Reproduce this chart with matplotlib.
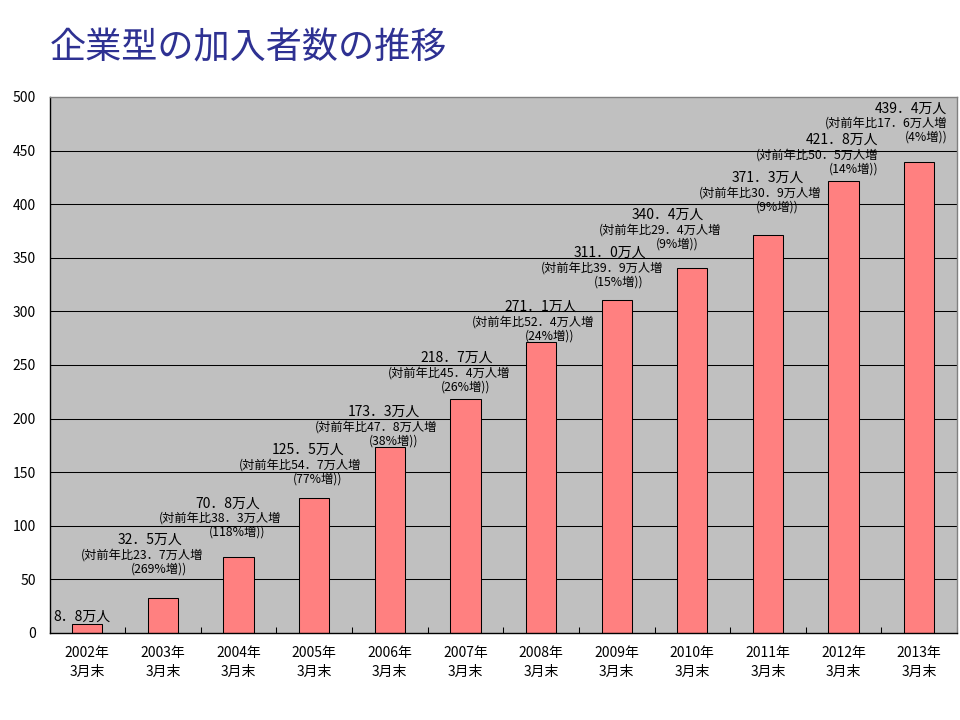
import matplotlib
matplotlib.use('Agg')
import matplotlib.pyplot as plt
import numpy as np

plt.rcParams['font.family'] = ['Noto Sans CJK JP', 'DejaVu Sans']

# ============================================================
# DATEN
# ============================================================
years = ['2002', '2003', '2004', '2005', '2006', '2007',
         '2008', '2009', '2010', '2011', '2012', '2013']
members = [8.8, 32.5, 70.8, 125.5, 173.3, 218.7,
           271.1, 311.0, 340.4, 371.3, 421.8, 439.4]       # 万人
increase = [None, 23.7, 38.3, 54.7, 47.8, 45.4,
            52.4, 39.9, 29.4, 30.9, 50.5, 17.6]            # 対前年比 万人増
increase_pct = [None, 269, 118, 77, 38, 26, 24, 15, 9, 9, 14, 4]

# label placement (category units / data units above bar top)
lab_dx = [-0.07, -0.17, -0.14, -0.08, -0.075, -0.11, 0.0, -0.086, -0.32, 0.0, 0.46, 0.37]
lab_dy = [6, 54, 50, 45, 33, 38, 33, 43.5, 49.5, 53, 38, 50]
lab_ha = ['center'] * 10 + ['right', 'right']

# ============================================================
# PLOT
# ============================================================
fig = plt.figure(figsize=(9.6, 7.2), dpi=100)
ax = fig.add_axes([49.5/960, 87/720, (957-49.5)/960, (633-97)/720])
ax.set_facecolor('#C0C0C0')

x = np.arange(len(years))
ax.bar(x, members, width=0.4, color='#FF8080', edgecolor='black', linewidth=0.75, zorder=3)

# Gitterlinien (ohne 500 -> dort grauer Rahmen)
for yv in range(50, 500, 50):
    ax.axhline(yv, color='black', linewidth=0.75, zorder=1)

ax.set_xlim(-0.5, len(years) - 0.5)
ax.set_ylim(0, 500)
ax.set_yticks(range(0, 501, 50))
ax.tick_params(axis='y', length=0, pad=10, labelsize=10)
ax.set_xticks(x)
ax.set_xticklabels([f'{y}年\n3月末' for y in years], fontsize=10, linespacing=1.5)
ax.tick_params(axis='x', which='major', length=0, pad=9)
ax.set_xticks(np.arange(-0.5, len(years), 1.0), minor=True)
ax.tick_params(axis='x', which='minor', direction='in', length=4, width=0.75, color='black')

for side in ['top', 'right']:
    ax.spines[side].set_color('#808080')
for side in ['left', 'bottom']:
    ax.spines[side].set_color('black')
for s in ax.spines.values():
    s.set_linewidth(1.0)
    s.set_zorder(4)

# Beschriftungen
for i, v in enumerate(members):
    line1 = f'{v:.1f}'.replace('.', '．') + '万人'
    anchor = (i + lab_dx[i], v + lab_dy[i])
    ha = lab_ha[i]
    off2 = (-8, -15) if ha == 'center' else (0, -15)
    off3 = (9, -29) if ha == 'center' else (0, -29)
    ax.annotate(line1, xy=anchor, xytext=(0, 0), textcoords='offset pixels',
                ha=ha, va='center', fontsize=10, zorder=5)
    if increase[i] is not None:
        line2 = '(対前年比' + f'{increase[i]:.1f}'.replace('.', '．') + '万人増'
        line3 = f'({increase_pct[i]}%増))'
        ax.annotate(line2, xy=anchor, xytext=off2, textcoords='offset pixels',
                    ha=ha, va='center', fontsize=8.8, zorder=5)
        ax.annotate(line3, xy=anchor, xytext=off3, textcoords='offset pixels',
                    ha=ha, va='center', fontsize=8.8, zorder=5)

fig.text(50/960, 1 - 48/720, '企業型の加入者数の推移', fontsize=26, color='#2E3192',
         ha='left', va='center')

fig.savefig('out.png', dpi=100)
